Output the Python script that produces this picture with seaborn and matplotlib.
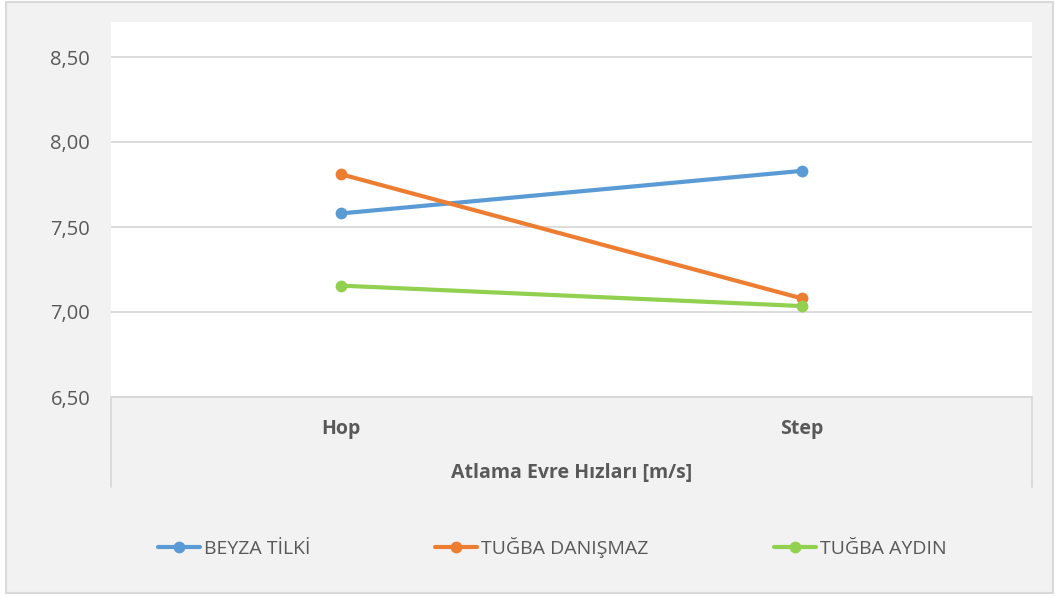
import matplotlib
matplotlib.use("Agg")
import matplotlib.pyplot as plt
import seaborn as sns
import pandas as pd
from matplotlib.patches import Rectangle
from matplotlib.lines import Line2D
from matplotlib.ticker import FuncFormatter

categories = ["Hop", "Step"]
series_names = ["BEYZA TİLKİ", "TUĞBA DANIŞMAZ", "TUĞBA AYDIN"]
beyza = [7.58, 7.83]
danismaz = [7.81, 7.08]
aydin = [7.155, 7.035]
colors = ["#5B9BD5", "#ED7D31", "#92D050"]
x_title = "Atlama Evre Hızları [m/s]"

rows = []
for name, vals in zip(series_names, [beyza, danismaz, aydin]):
    for c, v in zip(categories, vals):
        rows.append({"Kategori": c, "Değer": v, "Seri": name})
df = pd.DataFrame(rows)

sns.set_theme(style="white")
plt.rcParams["font.family"] = ["Open Sans", "DejaVu Sans"]

W, H = 1059, 596
fig = plt.figure(figsize=(W / 100, H / 100), dpi=100, facecolor="white")

# chart area background with border
fig.patches.append(Rectangle((6 / W, 1 - 593 / H), (1053 - 6) / W, (593 - 2) / H,
                             transform=fig.transFigure, facecolor="#F2F2F2",
                             edgecolor="#D9D9D9", linewidth=1.5, zorder=-5))

left, right, top, bottom = 111, 1032, 22, 397
ax = fig.add_axes([left / W, 1 - bottom / H, (right - left) / W, (bottom - top) / H])
ax.set_facecolor("white")

sns.lineplot(data=df, x="Kategori", y="Değer", hue="Seri", palette=colors,
             marker="o", markersize=8.5, markeredgewidth=0, linewidth=3,
             ax=ax, legend=False, sort=False)

ax.set_xlim(-0.5, 1.5)
ax.set_ylim(6.5, 8.5 + 35 / 170)
ax.set_yticks([6.5, 7.0, 7.5, 8.0, 8.5])
ax.yaxis.set_major_formatter(FuncFormatter(lambda v, p: f"{v:.2f}".replace(".", ",")))
ax.grid(axis="y", color="#D9D9D9", linewidth=1.3)
ax.set_axisbelow(True)
for s in ["top", "right", "left"]:
    ax.spines[s].set_visible(False)
ax.spines["bottom"].set_color("#D9D9D9")
ax.spines["bottom"].set_linewidth(1.3)

ax.tick_params(axis="y", length=0, pad=15, labelsize=14.5, labelcolor="#595959")
ax.tick_params(axis="x", length=0, pad=16, labelsize=14, labelcolor="#595959")
for lbl in ax.get_xticklabels():
    lbl.set_fontweight("bold")
ax.set_ylabel("")
ax.set_xlabel(x_title, fontsize=14, fontweight="bold", color="#595959", labelpad=17)

# category boundary lines in the axis area
for xp in [left, right]:
    fig.add_artist(Line2D([xp / W, xp / W], [1 - bottom / H, 1 - 487 / H],
                          transform=fig.transFigure, color="#D9D9D9", linewidth=1.3))

handles = [Line2D([0], [0], color=c, linewidth=3, marker="o", markersize=8.5,
                  markeredgewidth=0) for c in colors]
leg = fig.legend(handles, series_names, loc="center", ncol=3,
                 bbox_to_anchor=(552 / W, 1 - 547 / H), frameon=False,
                 fontsize=14, handlelength=2.15, handletextpad=0.2,
                 columnspacing=6.45)
for t in leg.get_texts():
    t.set_color("#595959")

fig.savefig("out.png", dpi=100, facecolor="white")
